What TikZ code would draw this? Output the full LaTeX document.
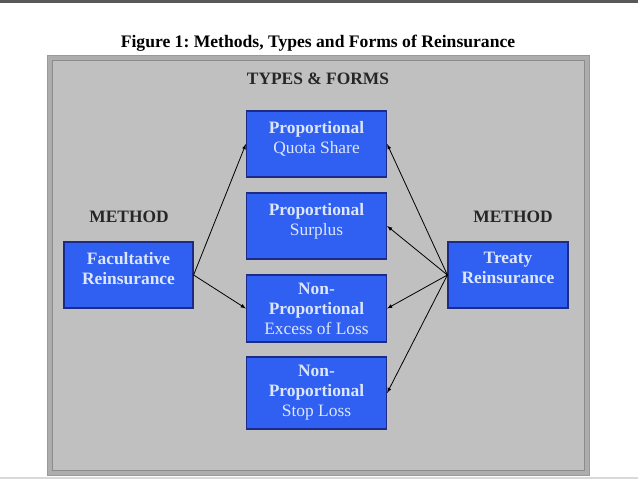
\documentclass[tikz,border=0pt]{standalone}
\usepackage{fontspec}
\setmainfont{Liberation Serif}
\usepackage{tikz}
\frenchspacing

\definecolor{boxblue}{HTML}{2F60F2}
\definecolor{boxedge}{HTML}{1C2C86}
\definecolor{boxtext}{HTML}{DCE6FF}
\definecolor{panel}{HTML}{C0C0C0}

\newcommand{\lift}{\\[-12pt]\strut}

\tikzset{
	formbox/.style={shape=rectangle,draw=boxedge,line width=1.2pt,fill=boxblue,
		text=boxtext,align=center,inner sep=0pt,minimum width=140pt,
		font=\fontsize{17.4}{20}\selectfont},
	methodbox/.style={formbox,minimum width=124pt,minimum height=66pt},
	heading/.style={font=\fontsize{17.4}{20}\selectfont\bfseries,text=black!85}
}

\begin{document}
\begin{tikzpicture}[x=1pt,y=-1pt]
	\useasboundingbox (0,0) rectangle (638,479);
	\fill[white] (0,0) rectangle (638,479);
	\fill[black!65] (0,0) rectangle (638,2.5);
	\fill[black!15] (0,476.5) rectangle (638,479);

	% frame
	\draw[fill=black!32,draw=black!40] (47,55) rectangle (589,475);
	\draw[fill=panel,draw=black!45,line width=1pt] (52,60) rectangle (584,470);

	\node[font=\fontsize{17.6}{20}\selectfont\bfseries] (title) at (318, 43) {Figure 1: Methods, Types and Forms of Reinsurance};
	\node[heading] (types) at (318, 79) {TYPES \& FORMS};
	\node[heading] (mleft) at (129, 217) {METHOD};
	\node[heading] (mright) at (513, 217) {METHOD};

	\node[formbox,minimum height=66pt] (quota) at (316.5, 144) {\textbf{Proportional}\\Quota Share\lift};
	\node[formbox,minimum height=66pt] (surplus) at (316.5, 226) {\textbf{Proportional}\\Surplus\lift};
	\node[formbox,minimum height=67pt] (excess) at (316.5, 308.5) {\textbf{Non-}\\\textbf{Proportional}\\Excess of Loss};
	\node[formbox,minimum height=72pt] (stop) at (316.5, 393) {\textbf{Non-}\\\textbf{Proportional}\\Stop Loss};

	\node[methodbox,minimum width=129pt] (fac) at (128.5, 275) {\textbf{Facultative}\\\textbf{Reinsurance}\lift};
	\node[methodbox,minimum width=120pt] (treaty) at (508, 275) {\textbf{Treaty}\\\textbf{Reinsurance}\lift};

	\draw[-latex,line width=0.8pt] (fac.east) -- (quota.west);
	\draw[-latex,line width=0.8pt] (fac.east) -- (excess.west);
	\draw[-latex,line width=0.8pt] (treaty.west) -- (quota.east);
	\draw[-latex,line width=0.8pt] (treaty.west) -- (surplus.east);
	\draw[-latex,line width=0.8pt] (treaty.west) -- (excess.east);
	\draw[-latex,line width=0.8pt] (treaty.west) -- (stop.east);

\end{tikzpicture}
\end{document}
